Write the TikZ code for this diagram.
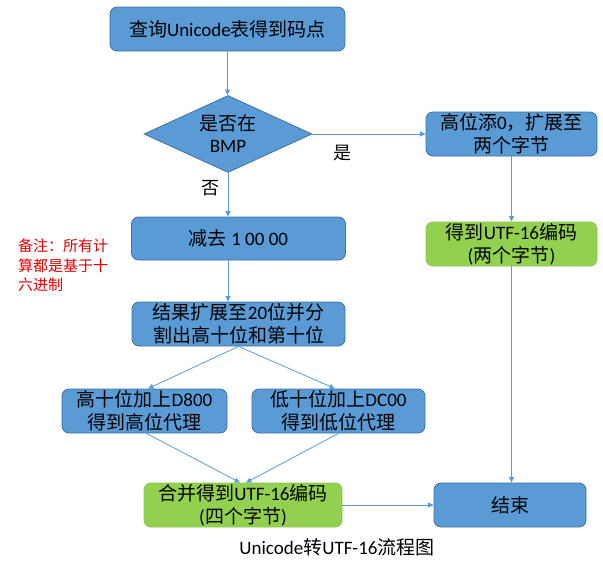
\documentclass[tikz,border=0pt]{standalone}
\usepackage{fontspec}
\setmainfont{Carlito}
\newfontfamily\cjk{Noto Sans CJK SC}
\newcommand\zh[1]{{\cjk #1}}
\usetikzlibrary{shapes.geometric,arrows.meta,calc}
\definecolor{boxblue}{HTML}{5B9BD5}
\definecolor{edgeblue}{HTML}{41719C}
\definecolor{boxgreen}{HTML}{92D050}
\definecolor{edgegreen}{HTML}{8AC54A}
\definecolor{notered}{HTML}{E00000}
\begin{document}
\begin{tikzpicture}[x=1pt,y=-1pt,
  bluebox/.style={draw=edgeblue,fill=boxblue,rounded corners=7pt,line width=0.8pt,
    inner sep=0pt,align=center,font=\fontsize{19}{23}\selectfont},
  greenbox/.style={bluebox,draw=edgegreen,fill=boxgreen},
  conn/.style={draw=boxblue,line width=0.8pt},
  arr/.style={conn,-{Triangle[length=5.5pt,width=5pt]}},
  lbl/.style={font=\fontsize{18}{22}\selectfont,inner sep=0pt}]
\useasboundingbox (0,0) rectangle (603,565);

\node[bluebox,minimum width=235pt,minimum height=44pt] (start) at (227.5,29) {\zh{查询}Unicode\zh{表得到码点}};
\node[diamond,draw=edgeblue,fill=boxblue,line width=0.8pt,inner sep=0pt,aspect=2.18,
  minimum width=168pt,minimum height=77pt,align=center,font=\fontsize{19}{22}\selectfont] (dia) at (228,134) {\zh{是否在}\\BMP};
\node[bluebox,minimum width=171pt,minimum height=44pt] (pad) at (511.5,134) {\zh{高位添}0\zh{，扩展至}\\\zh{两个字节}};
\node[greenbox,minimum width=171pt,minimum height=44pt] (two) at (511.5,244) {\zh{得到}UTF-16\zh{编码}\\(\zh{两个字节})};
\node[bluebox,minimum width=214pt,minimum height=43pt] (sub) at (238.5,238.5) {\zh{减去} 1 00 00};
\node[bluebox,minimum width=213pt,minimum height=44pt] (split) at (238.5,324) {\zh{结果扩展至}20\zh{位并分}\\\zh{割出高十位和第十位}};
\node[bluebox,minimum width=165pt,minimum height=44pt] (hi) at (144.5,411) {\zh{高十位加上}D800\\\zh{得到高位代理}};
\node[bluebox,minimum width=173pt,minimum height=44pt] (lo) at (338.5,411) {\zh{低十位加上}DC00\\\zh{得到低位代理}};
\node[greenbox,minimum width=198pt,minimum height=44pt] (four) at (243,505) {\zh{合并得到}UTF-16\zh{编码}\\(\zh{四个字节})};
\node[bluebox,minimum width=152pt,minimum height=44pt] (end) at (510,505) {\zh{结束}};

\node[anchor=north west,align=left,inner sep=0pt,text=notered,
  font=\cjk\fontsize{15}{19.3}\selectfont] (note) at (18,239) {备注：所有计\\算都是基于十\\六进制};
\node[font=\fontsize{19}{23}\selectfont,inner sep=0pt] (cap) at (337,547) {Unicode\zh{转}UTF-16\zh{流程图}};

\draw[arr] (start.south) -- (start.south |- dia.north);
\draw[arr] (dia.south) -- (dia.south |- sub.north);
\node[lbl] (no) at (210,188) {\zh{否}};
\draw[arr] (dia.east) -- (dia.east -| pad.west);
\node[lbl] (yes) at (342,153) {\zh{是}};
\draw[arr] (pad.south) -- (pad.south |- two.north);
\draw[arr] (two.south) -- (two.south |- end.north);
\draw[arr] (sub.south -| dia.south) -- (dia.south |- split.north);
\draw[arr] (split.south) -- ($(hi.north)+(3.5,0)$);
\draw[arr] (split.south) -- ($(lo.north)+(-3.5,0)$);
\draw[arr] ($(hi.south)+(2,0)$) -- ($(four.north)+(-3,0)$);
\draw[arr] (lo.south) -- ($(four.north)+(3,0)$);
\draw[arr] (four.east) -- (four.east -| end.west);
\end{tikzpicture}
\end{document}
